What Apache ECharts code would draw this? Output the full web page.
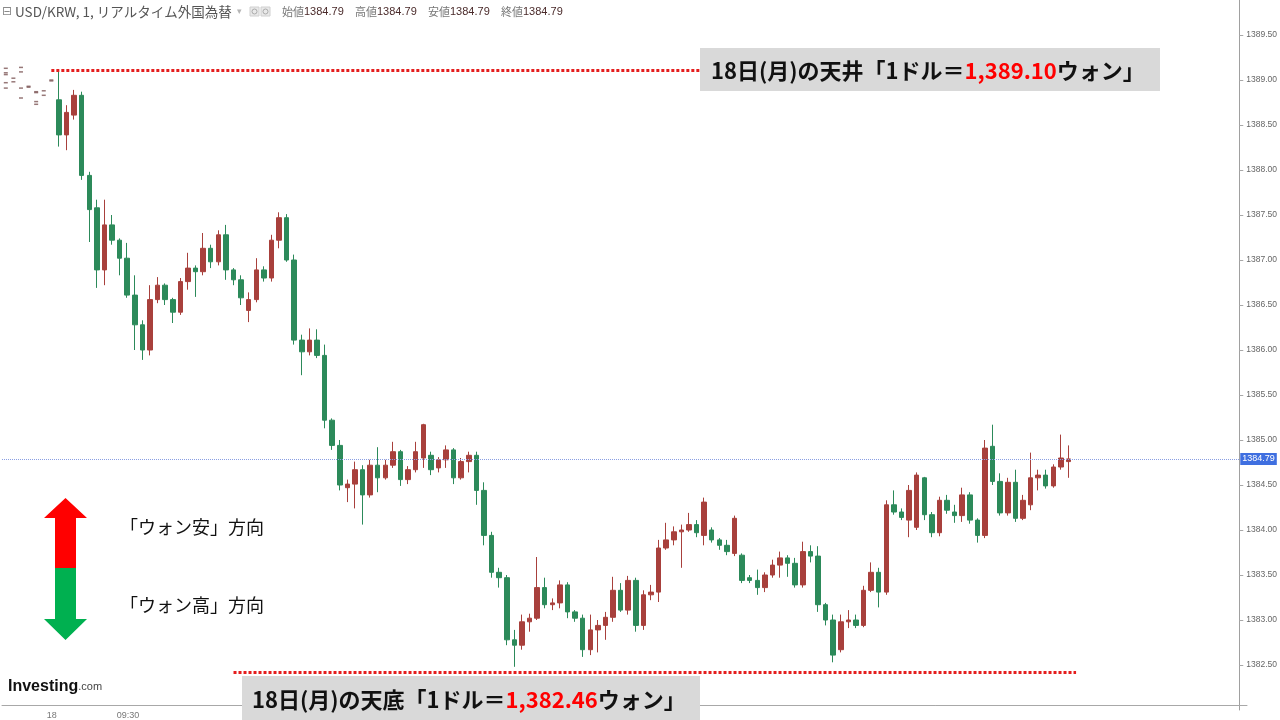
<!DOCTYPE html>
<html><head><meta charset="utf-8">
<script src="https://cdn.jsdelivr.net/npm/echarts@6/dist/echarts.min.js"></script>
<style>html,body{margin:0;padding:0;background:#fff;overflow:hidden}#c{width:1280px;height:720px}</style>
</head><body><div id="c"></div>
<script>
// ---- data (USD/KRW, 3-minute candles) ----
const categoryCount = 163;          // 08:42 ... , 3 minutes each
const firstCandleIndex = 7;         // first candle at 09:03
const openPrices = [1388.78,1388.39,1388.61,1388.83,1387.94,1387.58,1386.89,1387.39,1387.22,1387.02,1386.61,1386.28,1386.00,1386.56,1386.72,1386.56,1386.42,1386.76,1386.91,1386.87,1387.13,1386.98,1387.28,1386.89,1386.78,1386.44,1386.56,1386.89,1386.80,1387.22,1387.47,1387.00,1386.11,1385.98,1386.11,1385.94,1385.22,1384.94,1384.47,1384.51,1384.67,1384.39,1384.72,1384.58,1384.72,1384.87,1384.56,1384.67,1384.80,1384.83,1384.69,1384.78,1384.89,1384.58,1384.76,1384.83,1384.44,1383.94,1383.53,1383.47,1382.78,1382.72,1382.98,1383.02,1383.36,1383.17,1383.19,1383.39,1383.09,1383.02,1382.67,1382.89,1382.94,1383.03,1383.33,1383.11,1383.44,1382.94,1383.28,1383.31,1383.80,1383.89,1383.98,1384.00,1384.06,1383.94,1384.00,1383.89,1383.83,1383.74,1383.72,1383.47,1383.44,1383.36,1383.50,1383.61,1383.69,1383.63,1383.39,1383.76,1383.71,1383.17,1383.00,1382.67,1382.98,1383.00,1382.94,1383.33,1383.53,1383.31,1384.28,1384.20,1384.11,1384.03,1384.58,1384.17,1383.97,1384.33,1384.20,1384.16,1384.39,1384.11,1383.94,1384.93,1384.54,1384.19,1384.53,1384.13,1384.28,1384.58,1384.61,1384.49,1384.70,1384.76];
const closePrices = [1388.39,1388.64,1388.83,1387.94,1387.56,1386.89,1387.39,1387.22,1387.02,1386.61,1386.28,1386.00,1386.56,1386.72,1386.56,1386.42,1386.76,1386.91,1386.87,1387.13,1386.98,1387.28,1386.89,1386.78,1386.58,1386.56,1386.89,1386.80,1387.22,1387.47,1387.00,1386.11,1385.98,1386.11,1385.94,1385.22,1384.94,1384.50,1384.51,1384.67,1384.39,1384.72,1384.58,1384.72,1384.87,1384.56,1384.67,1384.87,1385.17,1384.67,1384.78,1384.89,1384.58,1384.76,1384.83,1384.44,1383.94,1383.53,1383.47,1382.78,1382.72,1382.98,1383.02,1383.36,1383.17,1383.19,1383.39,1383.09,1383.02,1382.67,1382.89,1382.94,1383.03,1383.33,1383.11,1383.44,1382.94,1383.28,1383.31,1383.80,1383.89,1383.98,1384.00,1384.06,1383.97,1384.31,1383.89,1383.83,1383.76,1384.13,1383.44,1383.44,1383.36,1383.50,1383.61,1383.69,1383.63,1383.39,1383.76,1383.71,1383.17,1383.00,1382.61,1382.98,1383.00,1382.94,1383.33,1383.53,1383.31,1384.28,1384.20,1384.14,1384.44,1384.61,1384.17,1383.97,1384.33,1384.22,1384.16,1384.39,1384.11,1383.94,1384.91,1384.54,1384.19,1384.53,1384.13,1384.33,1384.58,1384.61,1384.49,1384.70,1384.80,1384.79];
const lowPrices = [1388.26,1388.22,1388.56,1387.89,1387.20,1386.69,1386.72,1387.17,1386.83,1386.58,1386.00,1385.89,1385.94,1386.52,1386.50,1386.30,1386.39,1386.67,1386.59,1386.83,1386.91,1386.94,1386.78,1386.72,1386.50,1386.31,1386.53,1386.76,1386.76,1387.13,1386.98,1386.06,1385.72,1385.94,1385.91,1385.13,1384.89,1384.44,1384.31,1384.24,1384.06,1384.36,1384.42,1384.56,1384.69,1384.49,1384.51,1384.64,1384.69,1384.61,1384.64,1384.69,1384.51,1384.56,1384.64,1384.28,1383.83,1383.47,1383.36,1382.72,1382.48,1382.67,1382.87,1383.00,1383.13,1383.11,1383.13,1383.02,1382.98,1382.59,1382.61,1382.64,1382.78,1382.98,1383.09,1383.06,1382.87,1382.89,1383.22,1383.20,1383.78,1383.83,1383.58,1383.98,1383.92,1383.83,1383.86,1383.78,1383.72,1383.71,1383.41,1383.41,1383.28,1383.31,1383.47,1383.47,1383.48,1383.36,1383.36,1383.64,1383.09,1382.94,1382.53,1382.64,1382.91,1382.91,1382.92,1383.31,1383.14,1383.28,1384.17,1384.11,1383.92,1384.00,1384.11,1383.92,1383.93,1384.18,1384.08,1384.09,1384.07,1383.86,1383.91,1384.50,1384.16,1384.16,1384.09,1384.11,1384.22,1384.44,1384.46,1384.47,1384.67,1384.58];
const highPrices = [1389.10,1388.72,1388.89,1388.87,1387.98,1387.67,1387.67,1387.50,1387.24,1387.19,1386.83,1386.33,1386.72,1386.81,1386.74,1386.58,1386.80,1387.08,1386.94,1387.30,1387.17,1387.33,1387.39,1386.91,1386.83,1386.64,1387.02,1386.93,1387.28,1387.53,1387.51,1387.06,1386.17,1386.24,1386.23,1386.06,1385.24,1385.00,1384.56,1384.76,1384.72,1384.78,1384.92,1384.78,1384.98,1384.89,1384.71,1384.98,1385.18,1384.87,1384.81,1384.94,1384.91,1384.80,1384.87,1384.87,1384.53,1383.98,1383.58,1383.50,1382.89,1383.06,1383.07,1383.70,1383.47,1383.24,1383.44,1383.42,1383.11,1383.06,1383.06,1383.00,1383.09,1383.48,1383.41,1383.49,1383.47,1383.33,1383.39,1383.89,1384.08,1384.04,1384.06,1384.19,1384.11,1384.36,1384.03,1383.91,1383.89,1384.16,1383.74,1383.50,1383.56,1383.53,1383.67,1383.76,1383.72,1383.69,1383.87,1383.83,1383.82,1383.19,1383.06,1383.06,1383.11,1383.06,1383.38,1383.64,1383.58,1384.33,1384.44,1384.24,1384.50,1384.64,1384.59,1384.20,1384.37,1384.39,1384.28,1384.47,1384.42,1384.13,1385.00,1385.17,1384.63,1384.58,1384.67,1384.39,1384.86,1384.67,1384.67,1384.73,1385.06,1384.94];
// pre-market ticks before 09:00: [category index, price]
const premarketTicks = [[0,1389.13],[0,1389.08],[0,1389.06],[0,1388.97],[0,1388.91],[1,1389.02],[1,1388.98],[2,1389.14],[2,1389.09],[2,1388.91],[2,1388.80],[3,1388.93],[3,1388.92],[4,1388.87],[4,1388.86],[4,1388.76],[4,1388.73],[5,1388.88],[5,1388.83],[6,1389.00],[6,1388.99]];
const lastPrice = 1384.79;
const highLine = {level: 1389.11, from: 6, to: 92};
const lowLine = {level: 1382.42, from: 30, to: 141};
const yMin = 1382.0, yMax = 1389.8889, yStep = 0.5;
const xTickLabels = {'09:00': '18', '09:30': '09:30'};
const headerFields = ['始値', '高値', '安値', '終値'];
const headerValues = ['1384.79', '1384.79', '1384.79', '1384.79'];

// ---- build ----
const categories = [];
for (let i = 0; i < categoryCount; i++) {
  const m = 8 * 60 + 42 + i * 3;
  categories.push(String(Math.floor(m / 60)).padStart(2, '0') + ':' + String(m % 60).padStart(2, '0'));
}
const candleData = [];
for (let i = 0; i < firstCandleIndex; i++) candleData.push('-');
openPrices.forEach((o, k) => candleData.push([o, closePrices[k], lowPrices[k], highPrices[k]]));

const chart = echarts.init(document.getElementById('c'), null, {renderer: 'canvas'});
const JP = '"Noto Sans CJK JP"';
const UP = '#a8403c', DOWN = '#2c8a5a';

const headerGraphics = headerFields.map((f, k) => ({
  type: 'text', x: 282 + k * 73, y: 12, z: 100,
  style: {
    text: '{l|' + f + '}{v|' + headerValues[k] + '}', verticalAlign: 'middle',
    rich: {l: {font: '11px ' + JP, fill: '#777'}, v: {font: '11px "Liberation Sans"', fill: '#4a2a2a'}}
  }
}));

chart.setOption({
  animation: false,
  backgroundColor: '#ffffff',
  grid: [
    {left: 2, right: 33, top: 0, height: 710},
    {left: 2, right: 33, top: 0, height: 705}
  ],
  xAxis: [
    {type: 'category', data: categories, gridIndex: 0, show: false, boundaryGap: true},
    {type: 'category', data: categories, gridIndex: 1, boundaryGap: true,
      axisLine: {lineStyle: {color: '#a8a8a8', width: 1}},
      axisTick: {alignWithLabel: true, length: 4, lineStyle: {color: '#c4c4c4'},
        interval: (i) => i >= 6 && (i - 6) % 10 === 0},
      axisLabel: {interval: (i) => !!xTickLabels[categories[i]], formatter: (v) => xTickLabels[v] || '',
        fontSize: 9, color: '#777', margin: 6, fontFamily: 'Liberation Sans'},
      splitLine: {show: false}}
  ],
  yAxis: [
    {type: 'value', gridIndex: 0, position: 'right', min: yMin, max: yMax, interval: yStep,
      axisLine: {show: true, lineStyle: {color: '#a0a0a0'}},
      axisTick: {show: true, length: 4, lineStyle: {color: '#a8a8a8'}},
      splitLine: {show: false},
      axisLabel: {fontSize: 8.5, color: '#666', margin: 7, fontFamily: 'Liberation Sans',
        showMinLabel: false, showMaxLabel: false,
        formatter: (v) => (Math.abs(v / yStep - Math.round(v / yStep)) < 1e-6 ? v.toFixed(2) : '')}},
    {type: 'value', gridIndex: 1, show: false}
  ],
  series: [
    {
      type: 'candlestick', xAxisIndex: 0, yAxisIndex: 0, data: candleData, barWidth: 5,
      itemStyle: {color: UP, color0: DOWN, borderColor: UP, borderColor0: DOWN, borderWidth: 1},
      markLine: {
        silent: true, symbol: ['none', 'none'], animation: false,
        data: [
          {yAxis: lastPrice, lineStyle: {color: '#8a9fe3', type: [1, 1], width: 1},
            label: {show: true, position: 'end', distance: 1, formatter: lastPrice.toFixed(2),
              color: '#fff', backgroundColor: '#3f6fe0', padding: [2, 2, 1, 2], fontSize: 9, fontFamily: 'Liberation Sans'}},
          [{coord: [highLine.from, highLine.level], lineStyle: {color: '#e51d1d', type: [3, 2], width: 3}, label: {show: false}},
           {coord: [highLine.to, highLine.level]}],
          [{coord: [lowLine.from, lowLine.level], lineStyle: {color: '#e51d1d', type: [3, 2], width: 3}, label: {show: false}},
           {coord: [lowLine.to, lowLine.level]}]
        ]
      }
    },
    {
      type: 'scatter', xAxisIndex: 0, yAxisIndex: 0, data: premarketTicks, symbol: 'rect', symbolSize: [4, 1.5],
      itemStyle: {color: '#7d5656'}, silent: true
    }
  ],
  graphic: [
    // header
    {type: 'text', x: 2, y: 12, z: 100, style: {text: '⊟', font: '12px "DejaVu Sans"', fill: '#8a8a8a', verticalAlign: 'middle'}},
    {type: 'text', x: 15, y: 12, z: 100, style: {text: 'USD/KRW, 1, リアルタイム外国為替', font: '13.5px ' + JP, fill: '#555', verticalAlign: 'middle'}},
    {type: 'text', x: 237, y: 12, z: 100, style: {text: '▾', font: '9px "DejaVu Sans"', fill: '#b5b5b5', verticalAlign: 'middle'}},
    {type: 'rect', z: 100, shape: {x: 250, y: 7, width: 9, height: 9}, style: {fill: '#e9e9e9', stroke: '#d0d0d0'}},
    {type: 'circle', z: 101, shape: {cx: 254.5, cy: 11.5, r: 2.5}, style: {fill: 'none', stroke: '#aaa'}},
    {type: 'rect', z: 100, shape: {x: 261, y: 7, width: 9, height: 9}, style: {fill: '#e9e9e9', stroke: '#d0d0d0'}},
    {type: 'circle', z: 101, shape: {cx: 265.5, cy: 11.5, r: 2.5}, style: {fill: 'none', stroke: '#aaa'}},
    ...headerGraphics,
    // top annotation
    {type: 'rect', z: 100, shape: {x: 700, y: 48, width: 460, height: 43}, style: {fill: '#d9d9d9'}},
    {type: 'text', x: 711, y: 71, z: 101, style: {
      text: '{a|18日(月)の天井「1ドル＝}{r|1,389.10}{a|ウォン」}', verticalAlign: 'middle',
      rich: {a: {font: 'bold 22px ' + JP, fill: '#111'}, r: {font: 'bold 22px ' + JP, fill: '#ff0000'}}}},
    // bottom annotation
    {type: 'rect', z: 100, shape: {x: 242, y: 676, width: 458, height: 44}, style: {fill: '#d9d9d9'}},
    {type: 'text', x: 252, y: 700, z: 101, style: {
      text: '{a|18日(月)の天底「1ドル＝}{r|1,382.46}{a|ウォン」}', verticalAlign: 'middle',
      rich: {a: {font: 'bold 22px ' + JP, fill: '#111'}, r: {font: 'bold 22px ' + JP, fill: '#ff0000'}}}},
    // direction arrows
    {type: 'polygon', z: 100, shape: {points: [[65.5, 498], [87, 518], [76, 518], [76, 568], [55, 568], [55, 518], [44, 518]]}, style: {fill: '#ff0000'}},
    {type: 'polygon', z: 100, shape: {points: [[55, 568], [76, 568], [76, 619], [87, 619], [65.5, 640], [44, 619], [55, 619]]}, style: {fill: '#00b050'}},
    {type: 'text', x: 120, y: 527, z: 100, style: {text: '「ウォン安」方向', font: '18px ' + JP, fill: '#111', verticalAlign: 'middle'}},
    {type: 'text', x: 120, y: 605, z: 100, style: {text: '「ウォン高」方向', font: '18px ' + JP, fill: '#111', verticalAlign: 'middle'}},
    // logo
    {type: 'text', x: 8, y: 687, z: 100, style: {
      text: '{b|Investing}{c|.com}', verticalAlign: 'middle',
      rich: {b: {font: 'bold 16px "Liberation Sans"', fill: '#111'}, c: {font: '11px "Liberation Sans"', fill: '#444'}}}}
  ]
});
</script>
</body></html>
